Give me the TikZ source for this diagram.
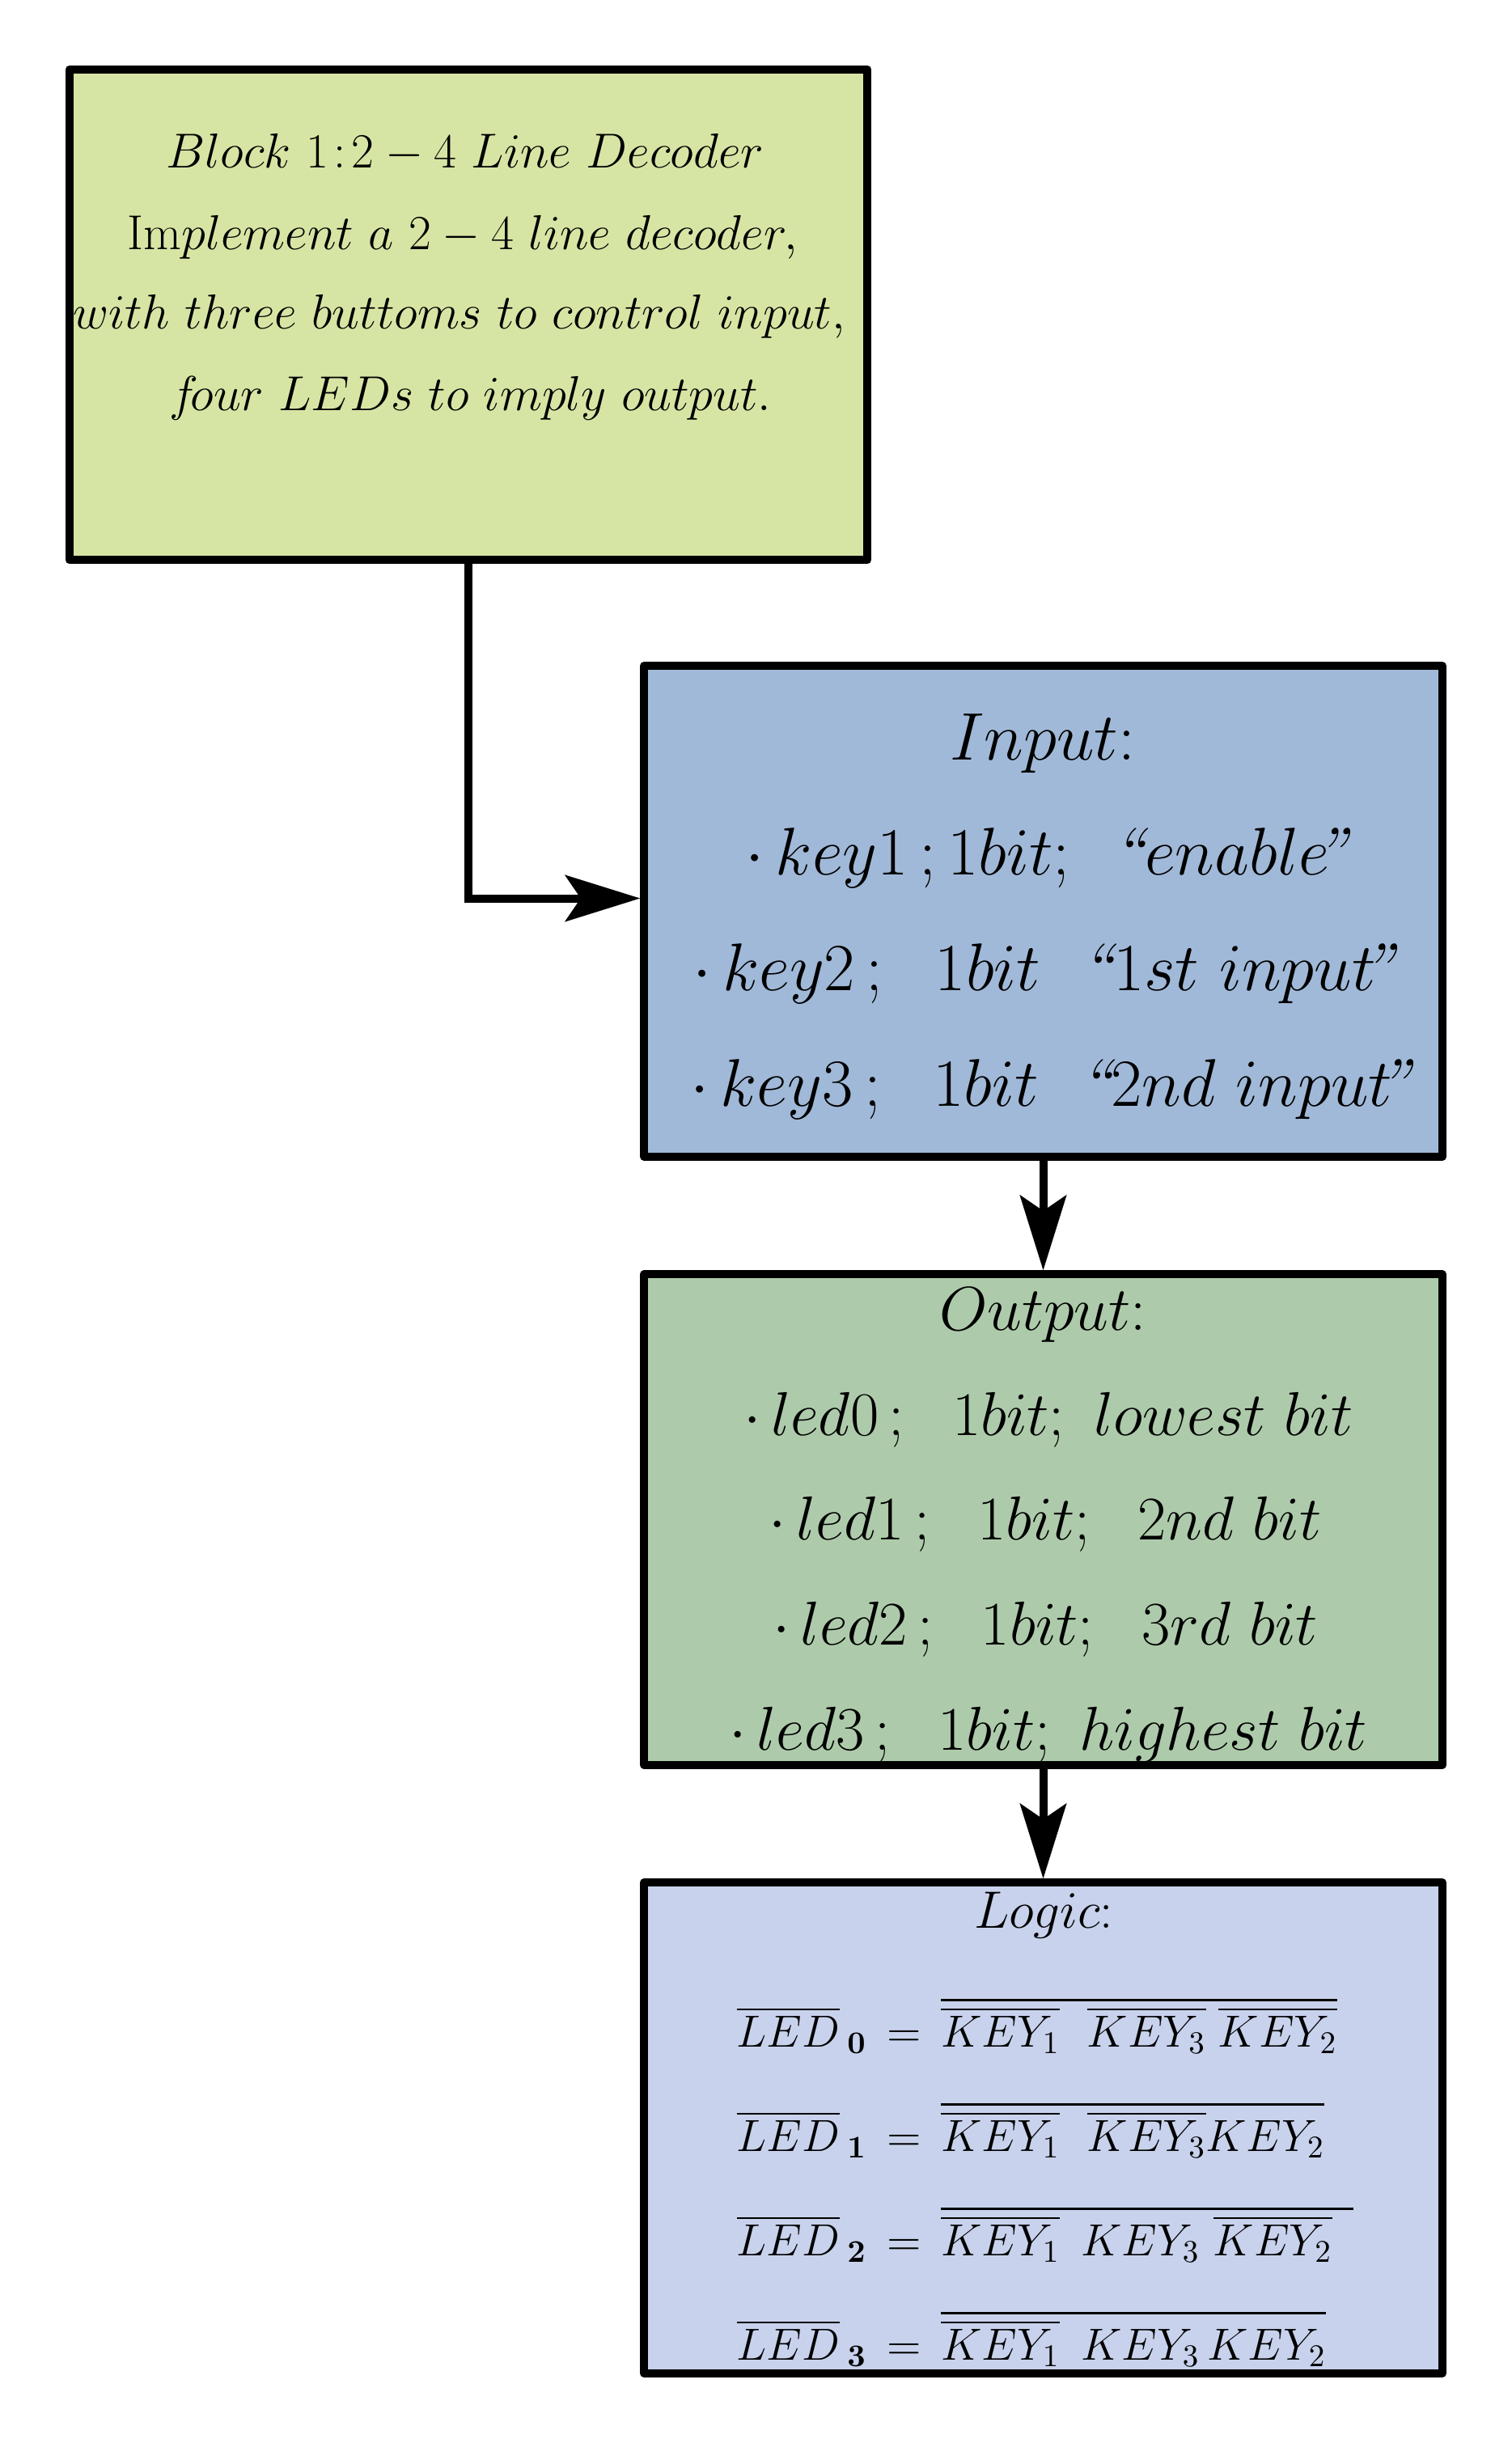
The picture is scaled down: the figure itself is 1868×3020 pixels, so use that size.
\documentclass[tikz,border=0pt]{standalone}
\usepackage{fix-cm}
\usepackage{amsmath}
\usetikzlibrary{arrows.meta}
\definecolor{cA}{RGB}{215,229,164}
\definecolor{cB}{RGB}{161,185,216}
\definecolor{cC}{RGB}{173,203,170}
\definecolor{cD}{RGB}{200,210,236}
\newcommand{\oq}{\text{\itshape ``}}
\newcommand{\cq}{\mkern-4mu\text{\itshape ''}}
\begin{document}
\begin{tikzpicture}[x=0.3pt,y=-0.3pt,
  box/.style={draw=black, line width=3pt, line join=round, rectangle, inner sep=0pt,
              minimum width=296pt, minimum height=182pt},
  conn/.style={line width=3pt, -{Stealth[length=28pt,width=17.5pt,inset=6pt,line width=0pt]}},
  ta/.style={anchor=base, inner sep=0pt, font=\fontsize{18.2}{22}\selectfont},
  tb/.style={anchor=base, inner sep=0pt, font=\fontsize{25}{30}\selectfont},
  tc/.style={anchor=base, inner sep=0pt, font=\fontsize{23}{27}\selectfont},
  td/.style={anchor=base, inner sep=0pt, font=\fontsize{19.5}{23}\selectfont},
  te/.style={anchor=base west, inner sep=0pt, font=\fontsize{16.7}{20}\selectfont}]
\useasboundingbox (0,0) rectangle (1868,3020);
% boxes
\node[box, fill=cA] (blk) at (579,389) {};
\node[box, fill=cB] (inp) at (1289.5,1126.5) {};
\node[box, fill=cC] (out) at (1289.5,1878.5) {};
\node[box, fill=cD] (lgc) at (1289.5,2630.5) {};
% connectors
\draw[conn] (blk.south) |- ([yshift=4.8pt]inp.west);
\draw[conn] (inp.south) -- (out.north);
\draw[conn] (out.south) -- (lgc.north);
% block text
\node[ta] (a1) at (575,208) {$Block\ 1\!:\!2-4\ Line\ Decoder$};
\node[ta] (a2) at (572,309) {$\mathrm{Im}plement\ a\ 2-4\ line\ decoder,$};
\node[ta] (a3) at (568,407) {$with\ three\ buttoms\ to\ control\ input,$};
\node[ta] (a4) at (582,508) {$f\!our\ LEDs\ to\ imply\ output.$};
% input text
\node[tb] (b1) at (1289,939) {$Input{:}$};
\node[tb] (b2) at (1293,1081) {$\cdot\, key1\,;1bit;\ \,\oq enable\cq$};
\node[tb] (b3) at (1289,1224) {$\cdot\, key2\,;\ \ 1bit\ \ \oq 1st\ input\cq$};
\node[tb] (b4) at (1298,1367) {$\cdot\, key3\,;\ \ 1bit\ \ \oq 2nd\ input\cq$};
% output text
\node[tc] (c1) at (1289,1644) {$Output{:}$};
\node[tc] (c2) at (1296,1774) {$\cdot\, led0\,;\ \ 1bit;\ lowest\ bit$};
\node[tc] (c3) at (1292,1903) {$\cdot\, led1\,;\ \ 1bit;\ \ 2nd\ bit$};
\node[tc] (c4) at (1292,2033) {$\cdot\, led2\,;\ \ 1bit;\ \ 3rd\ bit$};
\node[tc] (c5) at (1296,2163) {$\cdot\, led3\,;\ \ 1bit;\ highest\ bit$};
% logic text
\node[td] (d1) at (1290,2383) {$Logic{:}$};
\node[te] (d2) at (910,2530) {${\overline{LED}\,}_{\mathbf{0}}\,=\,\overline{\overline{KEY_1}\ \ \overline{KEY_3}\;\overline{KEY_2}}$};
\node[te] (d3) at (910,2659) {${\overline{LED}\,}_{\mathbf{1}}\,=\,\overline{\overline{KEY_1}\ \ \overline{KEY_3}KEY_2}$};
\node[te] (d4) at (910,2788) {${\overline{LED}\,}_{\mathbf{2}}\,=\,\overline{\overline{KEY_1}\ \,KEY_3\ \overline{KEY_2}\ \,}$};
\node[te] (d5) at (910,2917) {${\overline{LED}\,}_{\mathbf{3}}\,=\,\overline{\overline{KEY_1}\ \,KEY_3\,KEY_2}$};
\end{tikzpicture}
\end{document}
